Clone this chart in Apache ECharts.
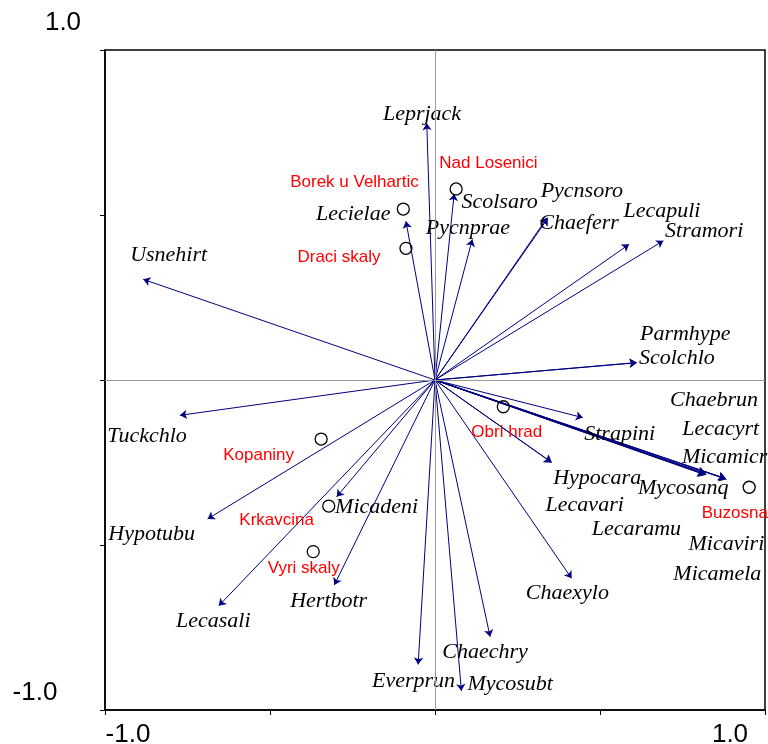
<!DOCTYPE html>
<html>
<head>
<meta charset="utf-8">
<script src="https://cdn.jsdelivr.net/npm/echarts@6/dist/echarts.min.js"></script>
<style>
html,body{margin:0;padding:0;background:#fff;}
#chart{width:768px;height:744px;}
</style>
</head>
<body>
<div id="chart"></div>
<script>
// ---- Data ----
const speciesNames = ['Usnehirt','Leprjack','Lecielae','Scolsaro','Pycnprae','Pycnsoro','Chaeferr','Lecapuli','Stramori','Parmhype','Scolchlo','Chaebrun','Lecacyrt','Micamicr','Mycosanq','Micaviri','Micamela','Strapini','Hypocara','Lecavari','Lecaramu','Chaexylo','Chaechry','Mycosubt','Everprun','Hertbotr','Lecasali','Micadeni','Hypotubu','Tuckchlo'];
const speciesX = [-0.884,-0.025,-0.088,0.058,0.113,0.340,0.342,0.588,0.692,0.612,0.610,0.820,0.822,0.818,0.881,0.879,0.883,0.448,0.352,0.354,0.817,0.414,0.167,0.080,-0.051,-0.305,-0.655,-0.298,-0.689,-0.773];
const speciesY = [0.305,0.778,0.481,0.564,0.426,0.492,0.490,0.411,0.422,0.053,0.052,-0.284,-0.287,-0.283,-0.299,-0.298,-0.301,-0.114,-0.249,-0.250,-0.287,-0.601,-0.778,-0.942,-0.862,-0.621,-0.684,-0.354,-0.421,-0.107];
const speciesLabelX = [-0.924,-0.158,-0.361,0.080,-0.028,0.320,0.316,0.571,0.697,0.621,0.618,0.712,0.749,0.748,0.615,0.768,0.722,0.452,0.358,0.335,0.475,0.275,0.022,0.098,-0.191,-0.439,-0.785,-0.303,-0.990,-0.993];
const speciesLabelY = [0.377,0.806,0.502,0.539,0.459,0.573,0.475,0.512,0.452,0.139,0.065,-0.061,-0.149,-0.235,-0.328,-0.497,-0.588,-0.163,-0.297,-0.378,-0.452,-0.646,-0.826,-0.921,-0.914,-0.669,-0.732,-0.386,-0.466,-0.170];

const siteNames = ['Borek u Velhartic','Nad Losenici','Draci skaly','Kopaniny','Krkavcina','Vyri skaly','Obri hrad','Buzosna'];
const siteX = [-0.096,0.064,-0.088,-0.345,-0.322,-0.369,0.207,0.952];
const siteY = [0.518,0.579,0.399,-0.179,-0.382,-0.520,-0.081,-0.325];
const siteLabelX = [-0.439,0.013,-0.417,-0.642,-0.593,-0.507,0.110,0.808];
const siteLabelY = [0.598,0.658,0.373,-0.227,-0.424,-0.571,-0.158,-0.403];

const xEndValues = [-1, 1];
const xEndLabels = ['-1.0', '1.0'];
const yEndValues = [1, -1];
const yEndLabels = ['1.0', '-1.0'];

// ---- Chart ----
const chart = echarts.init(document.getElementById('chart'), null, {renderer: 'canvas'});

const arrowData = speciesNames.map((n, i) => ({name: n, coords: [[0, 0], [speciesX[i], speciesY[i]]]}));
const speciesLabelData = speciesNames.map((n, i) => ({name: n, value: [speciesLabelX[i], speciesLabelY[i]]}));
const siteData = siteNames.map((n, i) => ({name: n, value: [siteX[i], siteY[i]]}));
const siteLabelData = siteNames.map((n, i) => ({name: n, value: [siteLabelX[i], siteLabelY[i]]}));

const axisCommon = {
  type: 'value', min: -1, max: 1, interval: 0.5,
  axisLine: {show: true, onZero: false, lineStyle: {color: '#000', width: 1.5}},
  axisTick: {show: true, length: 5, lineStyle: {color: '#000', width: 1}},
  axisLabel: {show: false},
  splitLine: {show: false}
};

chart.setOption({
  animation: false,
  backgroundColor: '#fff',
  grid: {left: 105, top: 50, width: 660, height: 660, show: true, borderColor: '#000', borderWidth: 1.5, backgroundColor: 'transparent'},
  xAxis: Object.assign({}, axisCommon, {position: 'bottom'}),
  yAxis: Object.assign({}, axisCommon, {position: 'left'}),
  series: [
    {
      type: 'scatter', silent: true, data: [], z: 1,
      markLine: {
        silent: true, symbol: 'none', label: {show: false}, animation: false,
        lineStyle: {color: '#9a9a9a', width: 1, type: 'solid', opacity: 1},
        data: [{xAxis: 0}, {yAxis: 0}]
      }
    },
    {
      type: 'lines', coordinateSystem: 'cartesian2d', silent: true, z: 2,
      symbol: ['none', 'arrow'], symbolSize: 7,
      lineStyle: {color: '#000080', width: 1, opacity: 1, curveness: 0},
      data: arrowData
    },
    {
      type: 'scatter', silent: true, z: 3,
      symbol: 'circle', symbolSize: 12,
      itemStyle: {color: 'rgba(255,255,255,0)', borderColor: '#000', borderWidth: 1.3, opacity: 1},
      data: siteData
    },
    {
      type: 'scatter', silent: true, z: 4,
      symbol: 'circle', symbolSize: 0.1,
      itemStyle: {color: 'rgba(0,0,0,0)', opacity: 1},
      label: {show: true, position: 'right', distance: 0, formatter: '{b}', color: '#000000', opacity: 1,
        fontFamily: 'Liberation Serif', fontStyle: 'italic', fontSize: 22},
      data: speciesLabelData
    },
    {
      type: 'scatter', silent: true, z: 4,
      symbol: 'circle', symbolSize: 0.1,
      itemStyle: {color: 'rgba(0,0,0,0)', opacity: 1},
      label: {show: true, position: 'right', distance: 0, formatter: '{b}', color: '#ff0000', opacity: 1,
        fontFamily: 'Liberation Sans', fontSize: 17},
      data: siteLabelData
    }
  ]
});

// end labels of the axes, placed relative to the axis ends
const xOffsets = [[23, 25], [-35, 25]];
const yOffsets = [[-42, -27], [-70, -17]];
const graphics = [];
xEndValues.forEach((v, i) => {
  const p = chart.convertToPixel({gridIndex: 0}, [v, -1]);
  graphics.push({type: 'text', x: p[0] + xOffsets[i][0], y: p[1] + xOffsets[i][1],
    style: {text: xEndLabels[i], font: '26px "Liberation Sans"', fill: '#000', align: 'center', verticalAlign: 'middle'}});
});
yEndValues.forEach((v, i) => {
  const p = chart.convertToPixel({gridIndex: 0}, [-1, v]);
  graphics.push({type: 'text', x: p[0] + yOffsets[i][0], y: p[1] + yOffsets[i][1],
    style: {text: yEndLabels[i], font: '26px "Liberation Sans"', fill: '#000', align: 'center', verticalAlign: 'middle'}});
});
chart.setOption({graphic: graphics});
</script>
</body>
</html>
